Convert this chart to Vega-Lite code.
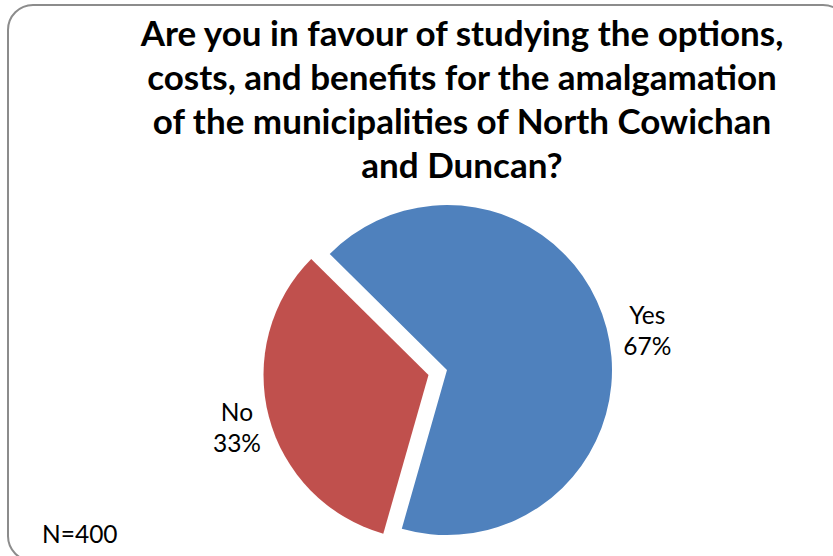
{
  "$schema": "https://vega.github.io/schema/vega-lite/v6.json",
  "width": 840,
  "height": 556,
  "autosize": "none",
  "padding": {"left": 8, "top": 5, "right": -15, "bottom": -5},
  "background": "white",
  "config": {
    "view": {"stroke": "#8c8c8c", "strokeWidth": 2, "cornerRadius": 25, "fill": "white"},
    "font": "Lato"
  },
  "title": {
    "text": [
      "Are you in favour of studying the options,",
      "costs, and benefits for the amalgamation",
      "of the municipalities of North Cowichan",
      "and Duncan?"
    ],
    "font": "Lato",
    "fontSize": 35,
    "fontWeight": "bold",
    "color": "black",
    "anchor": "middle",
    "frame": "group",
    "orient": "top",
    "baseline": "top",
    "offset": -180,
    "dx": 34,
    "lineHeight": 44
  },
  "data": {"values": [
    {"answer": "Yes", "pct": 67},
    {"answer": "No", "pct": 33}
  ]},
  "layer": [
    {
      "transform": [
        {"stack": "pct", "groupby": [], "sort": [{"field": "answer", "order": "descending"}], "as": ["t0", "t1"]},
        {"filter": "datum.answer === 'Yes'"}
      ],
      "mark": {"type": "arc", "radius": 165, "xOffset": 19, "yOffset": 87},
      "encoding": {
        "theta": {"field": "t0", "type": "quantitative", "scale": {"domain": [0, 100], "range": [-0.7906, 5.4926]}},
        "theta2": {"field": "t1"},
        "color": {"field": "answer", "type": "nominal", "scale": {"domain": ["Yes", "No"], "range": ["#4F81BD", "#C0504D"]}, "legend": null}
      }
    },
    {
      "transform": [
        {"stack": "pct", "groupby": [], "sort": [{"field": "answer", "order": "descending"}], "as": ["t0", "t1"]},
        {"filter": "datum.answer === 'No'"}
      ],
      "mark": {"type": "arc", "radius": 165, "xOffset": 0.5, "yOffset": 92},
      "encoding": {
        "theta": {"field": "t0", "type": "quantitative"},
        "theta2": {"field": "t1"},
        "color": {"field": "answer", "type": "nominal", "legend": null}
      }
    },
    {
      "transform": [
        {"stack": "pct", "groupby": [], "sort": [{"field": "answer", "order": "descending"}], "as": ["t0", "t1"]},
        {"calculate": "(datum.t0 + datum.t1) / 2", "as": "mid"},
        {"calculate": "[datum.answer, datum.pct + '%']", "as": "label"},
        {"filter": "datum.answer === 'Yes'"}
      ],
      "mark": {"type": "text", "radius": 205, "xOffset": 19, "yOffset": 87, "dx": 2, "dy": -1, "font": "Lato", "fontSize": 24.5, "color": "black", "align": "center", "baseline": "middle", "lineHeight": 31},
      "encoding": {
        "theta": {"field": "mid", "type": "quantitative"},
        "text": {"field": "label"}
      }
    },
    {
      "transform": [
        {"stack": "pct", "groupby": [], "sort": [{"field": "answer", "order": "descending"}], "as": ["t0", "t1"]},
        {"calculate": "(datum.t0 + datum.t1) / 2", "as": "mid"},
        {"calculate": "[datum.answer, datum.pct + '%']", "as": "label"},
        {"filter": "datum.answer === 'No'"}
      ],
      "mark": {"type": "text", "radius": 198, "xOffset": 0.5, "yOffset": 92, "dx": 0, "dy": -11, "font": "Lato", "fontSize": 24.5, "color": "black", "align": "center", "baseline": "middle", "lineHeight": 31},
      "encoding": {
        "theta": {"field": "mid", "type": "quantitative"},
        "text": {"field": "label"}
      }
    },
    {
      "data": {"values": [{"note": "N=400"}]},
      "mark": {"type": "text", "font": "Lato", "fontSize": 24.5, "color": "black", "align": "left", "baseline": "alphabetic", "dx": 34, "dy": -18},
      "encoding": {
        "x": {"datum": 0, "type": "quantitative", "scale": {"domain": [0, 1]}, "axis": null},
        "y": {"datum": 0, "type": "quantitative", "scale": {"domain": [0, 1]}, "axis": null},
        "text": {"field": "note"}
      }
    }
  ]
}
